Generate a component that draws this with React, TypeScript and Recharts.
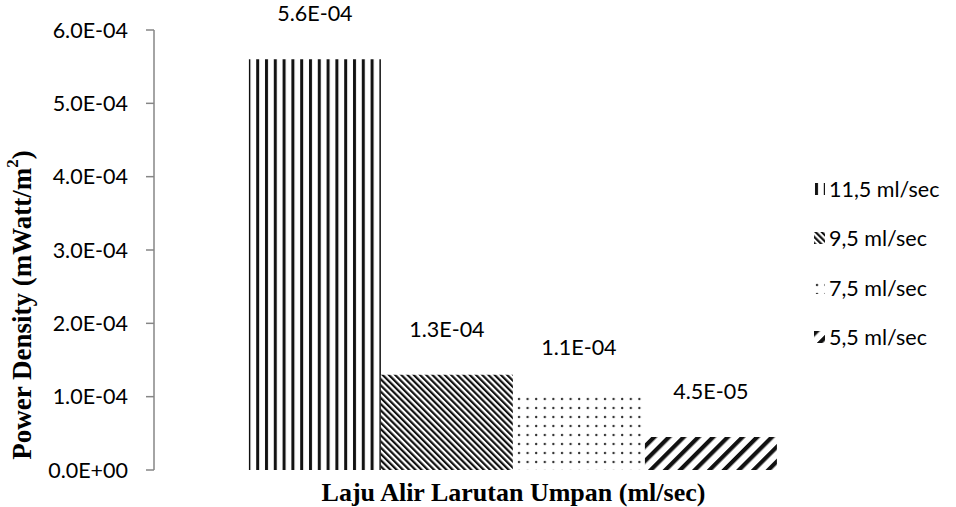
import React from "react";
import {
  BarChart,
  Bar,
  XAxis,
  YAxis,
  Legend,
  LabelList,
  Label,
} from "recharts";

const seriesNames = ["11,5 ml/sec", "9,5 ml/sec", "7,5 ml/sec", "5,5 ml/sec"];
const seriesValues = [5.6e-4, 1.3e-4, 1.05e-4, 4.5e-5];
const valueLabels = ["5.6E-04", "1.3E-04", "1.1E-04", "4.5E-05"];
const patternIds = ["pVert", "pDnDiag", "pDots", "pUpDiag"];
const yTicks = [0, 1e-4, 2e-4, 3e-4, 4e-4, 5e-4, 6e-4];
const category = "";

const chartData = [
  seriesNames.reduce(
    (row: any, _n, i) => {
      row["s" + i] = seriesValues[i];
      return row;
    },
    { name: category }
  ),
];

const CAL = "Lato, 'Open Sans', sans-serif";
const TNR = "'Liberation Serif', 'Times New Roman', serif";

function fmtExp(v: number) {
  if (v === 0) return "0.0E+00";
  const [m, e] = v.toExponential(1).split("e");
  const sign = e[0] === "-" ? "-" : "+";
  const digits = e.replace(/[+-]/, "").padStart(2, "0");
  return `${m}E${sign}${digits}`;
}

function Patterns() {
  return (
    <defs>
      <pattern id="pVert" width="8.8" height="10" patternUnits="userSpaceOnUse">
        <rect x="0" y="0" width="8.8" height="10" fill="#fff" />
        <rect x="1" y="0" width="3" height="10" fill="#111" />
      </pattern>
      <pattern
        id="pDnDiag"
        width="4.4"
        height="10"
        patternUnits="userSpaceOnUse"
        patternTransform="rotate(-45)"
      >
        <rect x="0" y="0" width="4.4" height="10" fill="#fff" />
        <rect x="0" y="0" width="2.2" height="10" fill="#111" />
      </pattern>
      <pattern id="pDots" width="8.6" height="9" patternUnits="userSpaceOnUse">
        <rect x="0" y="0" width="8.6" height="9" fill="#fff" />
        <circle cx="3" cy="3" r="1.2" fill="#333" />
      </pattern>
      <pattern
        id="pUpDiag"
        width="10.4"
        height="10"
        patternUnits="userSpaceOnUse"
        patternTransform="rotate(45)"
      >
        <rect x="0" y="0" width="10.4" height="10" fill="#fff" />
        <rect x="0" y="0" width="4.2" height="10" fill="#111" />
      </pattern>
    </defs>
  );
}

function renderLegend() {
  return (
    <div style={{ fontFamily: CAL, fontSize: 21.5, color: "#000" }}>
      {seriesNames.map((name, i) => (
        <div
          key={name}
          style={{ display: "flex", alignItems: "center", height: 49.5 }}
        >
          <svg width="11" height="12" style={{ marginRight: 4 }}>
            <rect width="11" height="12" fill={`url(#${patternIds[i]})`} />
          </svg>
          <span>{name}</span>
        </div>
      ))}
    </div>
  );
}

function YTitle() {
  const x = 22;
  const y = 305;
  return (
    <text
      x={x}
      y={y}
      transform={`rotate(-90 ${x} ${y})`}
      textAnchor="middle"
      dominantBaseline="central"
      fontFamily={TNR}
      fontWeight="bold"
      fontSize={27}
      fill="#000"
    >
      Power Density (mWatt/m
      <tspan fontSize={17} dy={-10}>
        2
      </tspan>
      <tspan dy={10}>)</tspan>
    </text>
  );
}

export default function App() {
  return (
    <div style={{ position: "absolute", left: 0, top: 0 }}>
      <BarChart
        width={956}
        height={507}
        data={chartData}
        margin={{ top: 30, right: 83, bottom: 0, left: 0 }}
        barGap={0}
        barCategoryGap="13.2%"
      >
        <Patterns />
        <XAxis
          dataKey="name"
          tick={false}
          axisLine={false}
          tickLine={false}
          height={37}
        >
          <Label
            value="Laju Alir Larutan Umpan (ml/sec)"
            position="center"
            dy={3}
            style={{
              fontFamily: TNR,
              fontWeight: "bold",
              fontSize: 26,
              fill: "#000",
            }}
          />
        </XAxis>
        <YAxis
          width={154}
          domain={[0, 6e-4]}
          ticks={yTicks}
          interval={0}
          tickFormatter={fmtExp}
          axisLine={{ stroke: "#868686", strokeWidth: 1.5 }}
          tickLine={{ stroke: "#868686", strokeWidth: 1.5 }}
          tickSize={8}
          tickMargin={18}
          tick={{ fontFamily: CAL, fontSize: 21.5, fill: "#000" }}
        >
          <Label content={<YTitle />} />
        </YAxis>
        <Legend
          layout="vertical"
          align="center"
          verticalAlign="middle"
          content={renderLegend}
          wrapperStyle={{ left: 814, top: 164, width: 142 }}
        />
        {seriesNames.map((name, i) => (
          <Bar
            key={name}
            dataKey={"s" + i}
            name={name}
            fill={`url(#${patternIds[i]})`}
            isAnimationActive={false}
          >
            <LabelList
              dataKey={"s" + i}
              position="top"
              offset={38}
              formatter={() => valueLabels[i]}
              style={{ fontFamily: CAL, fontSize: 21.5, fill: "#000" }}
            />
          </Bar>
        ))}
      </BarChart>
    </div>
  );
}
